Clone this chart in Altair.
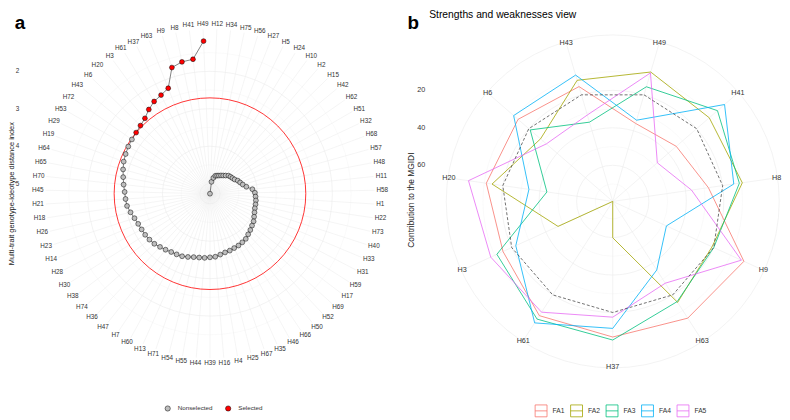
import altair as alt
import pandas as pd

# ---------------- panel a : MGIDI index (clockwise from the top) ----------------
GENOTYPES_A = ["H12", "H34", "H75", "H56", "H27", "H5", "H24", "H10", "H2", "H15",
               "H42", "H62", "H51", "H32", "H68", "H57", "H48", "H11", "H58", "H1",
               "H22", "H73", "H40", "H33", "H31", "H59", "H17", "H69", "H52", "H50",
               "H66", "H46", "H35", "H67", "H25", "H4", "H16", "H39", "H44", "H55",
               "H54", "H71", "H13", "H60", "H7", "H47", "H36", "H74", "H38", "H30",
               "H28", "H14", "H23", "H26", "H18", "H21", "H45", "H70", "H65", "H64",
               "H19", "H29", "H53", "H72", "H43", "H6", "H20", "H3", "H61", "H37",
               "H63", "H9", "H8", "H41", "H49"]
MGIDI_A = [5.27, 4.95, 4.84, 4.77, 4.75, 4.73, 4.70, 4.67, 4.63, 4.58,
           4.56, 4.54, 4.51, 4.45, 4.41, 4.36, 4.28, 4.13, 4.07, 4.05,
           4.03, 4.02, 4.01, 3.98, 3.94, 3.89, 3.86, 3.82, 3.78, 3.73,
           3.71, 3.69, 3.68, 3.66, 3.65, 3.62, 3.58, 3.57, 3.55, 3.54,
           3.52, 3.48, 3.44, 3.42, 3.40, 3.36, 3.32, 3.27, 3.24, 3.22,
           3.21, 3.19, 3.15, 3.09, 3.03, 3.01, 2.99, 2.95, 2.91, 2.86,
           2.81, 2.78, 2.75, 2.73, 2.71, 2.67, 2.61, 2.49, 2.39, 2.33,
           2.24, 1.75, 1.67, 1.65, 1.19]
SELECTED_A = ["H49", "H41", "H8", "H9", "H63", "H37", "H61", "H3", "H20", "H6", "H43"]
STATUS = ["Nonselected", "Selected"]
A_TICKS = [2, 3, 4, 5]
A_MINOR = [1.5, 2.5, 3.5, 4.5]
A_YTITLE = "Multi-trait genotype-ideotype distance index"

# ---------------- panel b : strengths and weaknesses (contributions, %) ----------------
GENOTYPES_B = ["H49", "H41", "H8", "H9", "H63", "H37", "H61", "H3", "H20", "H6", "H43"]
FACTORS = ["FA1", "FA2", "FA3", "FA4", "FA5"]
FA1 = [35.9, 34.4, 27.7, 2.3, 5.2, 6.9, 6.8, 14.9, 11.1, 12.4, 15.4]
FA2 = [7.3, 11.1, 9.4, 21.0, 15.2, 59.9, 79.3, 47.2, 14.2, 28.3, 11.9]
FA3 = [15.5, 5.3, 11.0, 20.0, 15.7, 5.3, 4.6, 11.3, 43.8, 21.0, 35.2]
FA4 = [34.1, 0.3, 14.0, 47.8, 35.8, 11.5, 2.2, 22.4, 34.1, 9.3, 9.0]
FA5 = [7.8, 47.8, 36.8, 3.8, 27.4, 17.5, 9.0, 7.7, 1.5, 32.4, 31.2]
FA_COLORS = ["#F8766D", "#A3A500", "#00BF7D", "#00B0F6", "#E76BF3"]
B_TICKS = [20, 40, 60]
B_MINOR = [10, 30, 50, 70]
B_TITLE = "Strengths and weaknesses view"
B_YTITLE = "Contribution to the MGIDI"

# ---------------- layout constants (pixels) ----------------
H = 408
A_W, A_CX, A_CY = 400, 202.8, 185.5
A_R_OUT, A_R_SPOKE, A_R_LAB = 154.1, 166.0, 168.0
B_W, B_CX, B_CY = 380, 209.2, 193.3
B_R_OUT, B_R_RING, B_R_LAB = 149.3, 168.0, 167.0
GRID = "#EBEBEB"
TXT = "#333333"
FONT = "Liberation Sans"

N_A = len(GENOTYPES_A)
N_B = len(GENOTYPES_B)
VMAX_A, VMIN_A = max(MGIDI_A), min(MGIDI_A)
THRESH_A = max(v for g, v in zip(GENOTYPES_A, MGIDI_A) if g in SELECTED_A)
ALL_B = FA1 + FA2 + FA3 + FA4 + FA5
VMAX_B, VMIN_B = max(ALL_B), min(ALL_B)

df_a = pd.DataFrame({"genotype": GENOTYPES_A, "mgidi": MGIDI_A, "pos": list(range(N_A))})
df_a["status"] = [STATUS[1] if g in SELECTED_A else STATUS[0] for g in GENOTYPES_A]

rows = []
for f, vals in zip(FACTORS, [FA1, FA2, FA3, FA4, FA5]):
    for i, (g, v) in enumerate(zip(GENOTYPES_B, vals)):
        rows.append({"factor": f, "genotype": g, "idx": i, "value": v})
df_b = pd.DataFrame(rows)
df_eq = pd.DataFrame({"genotype": GENOTYPES_B, "idx": list(range(N_B)),
                      "value": [100 / len(FACTORS)] * N_B})

XA = alt.Scale(domain=[-A_CX, A_W - A_CX], nice=False, zero=False)
YA = alt.Scale(domain=[A_CY - H, A_CY], nice=False, zero=False)
XB = alt.Scale(domain=[-B_CX, B_W - B_CX], nice=False, zero=False)
YB = alt.Scale(domain=[B_CY - H, B_CY], nice=False, zero=False)


def X(f, s):
    return alt.X(f"{f}:Q", scale=s, axis=None)


def Y(f, s):
    return alt.Y(f"{f}:Q", scale=s, axis=None)


RAD_A = lambda fld: f"{A_R_OUT}*({VMAX_A}-datum.{fld})/({VMAX_A - VMIN_A})"
RAD_B = lambda fld: f"{B_R_OUT}*({VMAX_B}-datum.{fld})/({VMAX_B - VMIN_B})"
TH_A = f"(datum.pos+0.5)*2*PI/{N_A}"
TH_B = f"(datum.idx+0.5)*2*PI/{N_B}"


def circles(values, rad, xs, ys, color, width):
    return alt.Chart(pd.DataFrame({"v": values})).transform_calculate(
        z="0", r=rad("v"), sz="pow(2*datum.r,2)"
    ).mark_point(shape="circle", filled=False, opacity=1, color=color, strokeWidth=width).encode(
        x=X("z", xs), y=Y("z", ys), size=alt.Size("sz:Q", scale=None, legend=None))


# ---------------- panel a layers ----------------
base_a = alt.Chart(df_a).transform_calculate(
    theta=TH_A, r=RAD_A("mgidi"), z="0",
    px="datum.r*sin(datum.theta)", py="datum.r*cos(datum.theta)")

spokes_a = base_a.transform_calculate(
    sx=f"{A_R_SPOKE}*sin(datum.theta)", sy=f"{A_R_SPOKE}*cos(datum.theta)"
).mark_rule(color=GRID, strokeWidth=0.5).encode(
    x=X("z", XA), y=Y("z", YA), x2="sx:Q", y2="sy:Q")

minor_a = circles(A_MINOR, RAD_A, XA, YA, "#F2F2F2", 0.4)
major_a = circles(A_TICKS, RAD_A, XA, YA, GRID, 0.6)
thr_a = circles([THRESH_A], RAD_A, XA, YA, "#FF0000", 0.8)

line_a = base_a.mark_line(color="black", strokeWidth=0.5).encode(
    x=X("px", XA), y=Y("py", YA), order=alt.Order("mgidi:Q"))

points_a = base_a.mark_point(filled=True, shape="circle", size=24, stroke="black",
                             strokeWidth=0.5, opacity=1).encode(
    x=X("px", XA), y=Y("py", YA),
    fill=alt.Fill("status:N", scale=alt.Scale(domain=STATUS, range=["#BEBEBE", "#FF0000"]),
                  legend=alt.Legend(title=None, orient="none", legendX=157, legendY=399,
                                    direction="horizontal", symbolType="circle", symbolSize=28,
                                    symbolStrokeColor="black", symbolStrokeWidth=0.5,
                                    labelFontSize=6.3, labelFont=FONT, labelColor=TXT,
                                    labelOffset=7, columnPadding=11, padding=0)))

labels_a = base_a.transform_calculate(
    lw="4.62+3.56*(length(datum.genotype)-1)",
    lx=f"({A_R_LAB}+datum.lw/2)*sin(datum.theta)",
    ly=f"({A_R_LAB}+3.3)*cos(datum.theta)"
).mark_text(fontSize=6.4, font=FONT, color=TXT, baseline="middle", align="center").encode(
    x=X("lx", XA), y=Y("ly", YA), text="genotype:N")

ticks_a = alt.Chart(pd.DataFrame({"v": A_TICKS})).transform_calculate(
    r=RAD_A("v")).mark_text(fontSize=6.4, font=FONT, color=TXT).encode(
    x=alt.value(8.5), y=Y("r", YA), text=alt.Text("v:Q"))

ytitle_a = alt.Chart(pd.DataFrame({"t": [A_YTITLE]})).mark_text(
    angle=270, fontSize=7.5, font=FONT, color="#1A1A1A", baseline="middle").encode(
    x=alt.value(3), y=alt.value(A_CY), text="t:N")

tag_a = alt.Chart(pd.DataFrame({"t": ["a"]})).mark_text(
    fontSize=19, fontWeight="bold", font=FONT, color="black").encode(
    x=alt.value(11), y=alt.value(13), text="t:N")

left = alt.layer(minor_a, major_a, spokes_a, thr_a, line_a, points_a, labels_a,
                 ticks_a, ytitle_a, tag_a).properties(width=A_W, height=H)

# ---------------- panel b layers ----------------
spk = pd.DataFrame({"genotype": GENOTYPES_B, "idx": list(range(N_B))})
base_spk = alt.Chart(spk).transform_calculate(theta=TH_B, z="0")

spokes_b = base_spk.transform_calculate(
    sx=f"{B_R_RING}*sin(datum.theta)", sy=f"{B_R_RING}*cos(datum.theta)"
).mark_rule(color=GRID, strokeWidth=0.6).encode(
    x=X("z", XB), y=Y("z", YB), x2="sx:Q", y2="sy:Q")

minor_b = circles(B_MINOR, RAD_B, XB, YB, "#F2F2F2", 0.4)
major_b = circles(B_TICKS, RAD_B, XB, YB, GRID, 0.6)
ring_b = alt.Chart(pd.DataFrame({"z": [0]})).mark_point(
    shape="circle", filled=False, opacity=1, color=GRID, strokeWidth=0.6).encode(
    x=X("z", XB), y=Y("z", YB), size=alt.value((2 * B_R_RING) ** 2))

lines_b = alt.Chart(df_b).transform_calculate(
    theta=TH_B, r=RAD_B("value"),
    px="datum.r*sin(datum.theta)", py="datum.r*cos(datum.theta)"
).mark_line(interpolate="linear-closed", strokeWidth=0.8).encode(
    x=X("px", XB), y=Y("py", YB), order=alt.Order("idx:Q"),
    color=alt.Color("factor:N", scale=alt.Scale(domain=FACTORS, range=FA_COLORS),
                    legend=alt.Legend(title=None, orient="none", legendX=A_W + 130.4,
                                      legendY=397.7, direction="horizontal",
                                      symbolType="M-1,-1L1,-1L1,1L-1,1Z M-1,0L1,0",
                                      symbolSize=144, symbolStrokeWidth=0.8,
                                      symbolFillColor="transparent",
                                      labelFontSize=6.8, labelFont=FONT, labelColor=TXT,
                                      labelOffset=5, columnPadding=2.8, padding=0)))

eq_b = alt.Chart(df_eq).transform_calculate(
    theta=TH_B, r=RAD_B("value"),
    px="datum.r*sin(datum.theta)", py="datum.r*cos(datum.theta)"
).mark_line(interpolate="linear-closed", strokeWidth=0.7, color="#333333",
            strokeDash=[3, 2]).encode(x=X("px", XB), y=Y("py", YB), order=alt.Order("idx:Q"))

labels_b = base_spk.transform_calculate(
    lx=f"{B_R_LAB}*sin(datum.theta)", ly=f"{B_R_LAB}*cos(datum.theta)"
).mark_text(fontSize=7.3, font=FONT, color=TXT, baseline="middle", align="center").encode(
    x=X("lx", XB), y=Y("ly", YB), text="genotype:N")

ticks_b = alt.Chart(pd.DataFrame({"v": B_TICKS})).transform_calculate(
    r=RAD_B("v")).mark_text(fontSize=7.3, font=FONT, color=TXT).encode(
    x=alt.value(16), y=Y("r", YB), text=alt.Text("v:Q"))

ytitle_b = alt.Chart(pd.DataFrame({"t": [B_YTITLE]})).mark_text(
    angle=270, fontSize=8.5, font=FONT, color="#1A1A1A", baseline="middle").encode(
    x=alt.value(6), y=alt.value(192), text="t:N")

title_b = alt.Chart(pd.DataFrame({"t": [B_TITLE]})).mark_text(
    fontSize=10.4, font=FONT, color="black", align="left", baseline="top").encode(
    x=alt.value(24), y=alt.value(0), text="t:N")

tag_b = alt.Chart(pd.DataFrame({"t": ["b"]})).mark_text(
    fontSize=19, fontWeight="bold", font=FONT, color="black").encode(
    x=alt.value(8), y=alt.value(13), text="t:N")

right = alt.layer(minor_b, major_b, ring_b, spokes_b, lines_b, eq_b, labels_b, ticks_b,
                  ytitle_b, title_b, tag_b).properties(width=B_W, height=H)

chart = alt.hconcat(left, right, spacing=0, bounds="flush").properties(
    padding=0
).configure(font=FONT).configure_view(stroke="transparent", strokeWidth=0)

chart.save("out.html", embed_options={"renderer": "svg", "actions": False})
